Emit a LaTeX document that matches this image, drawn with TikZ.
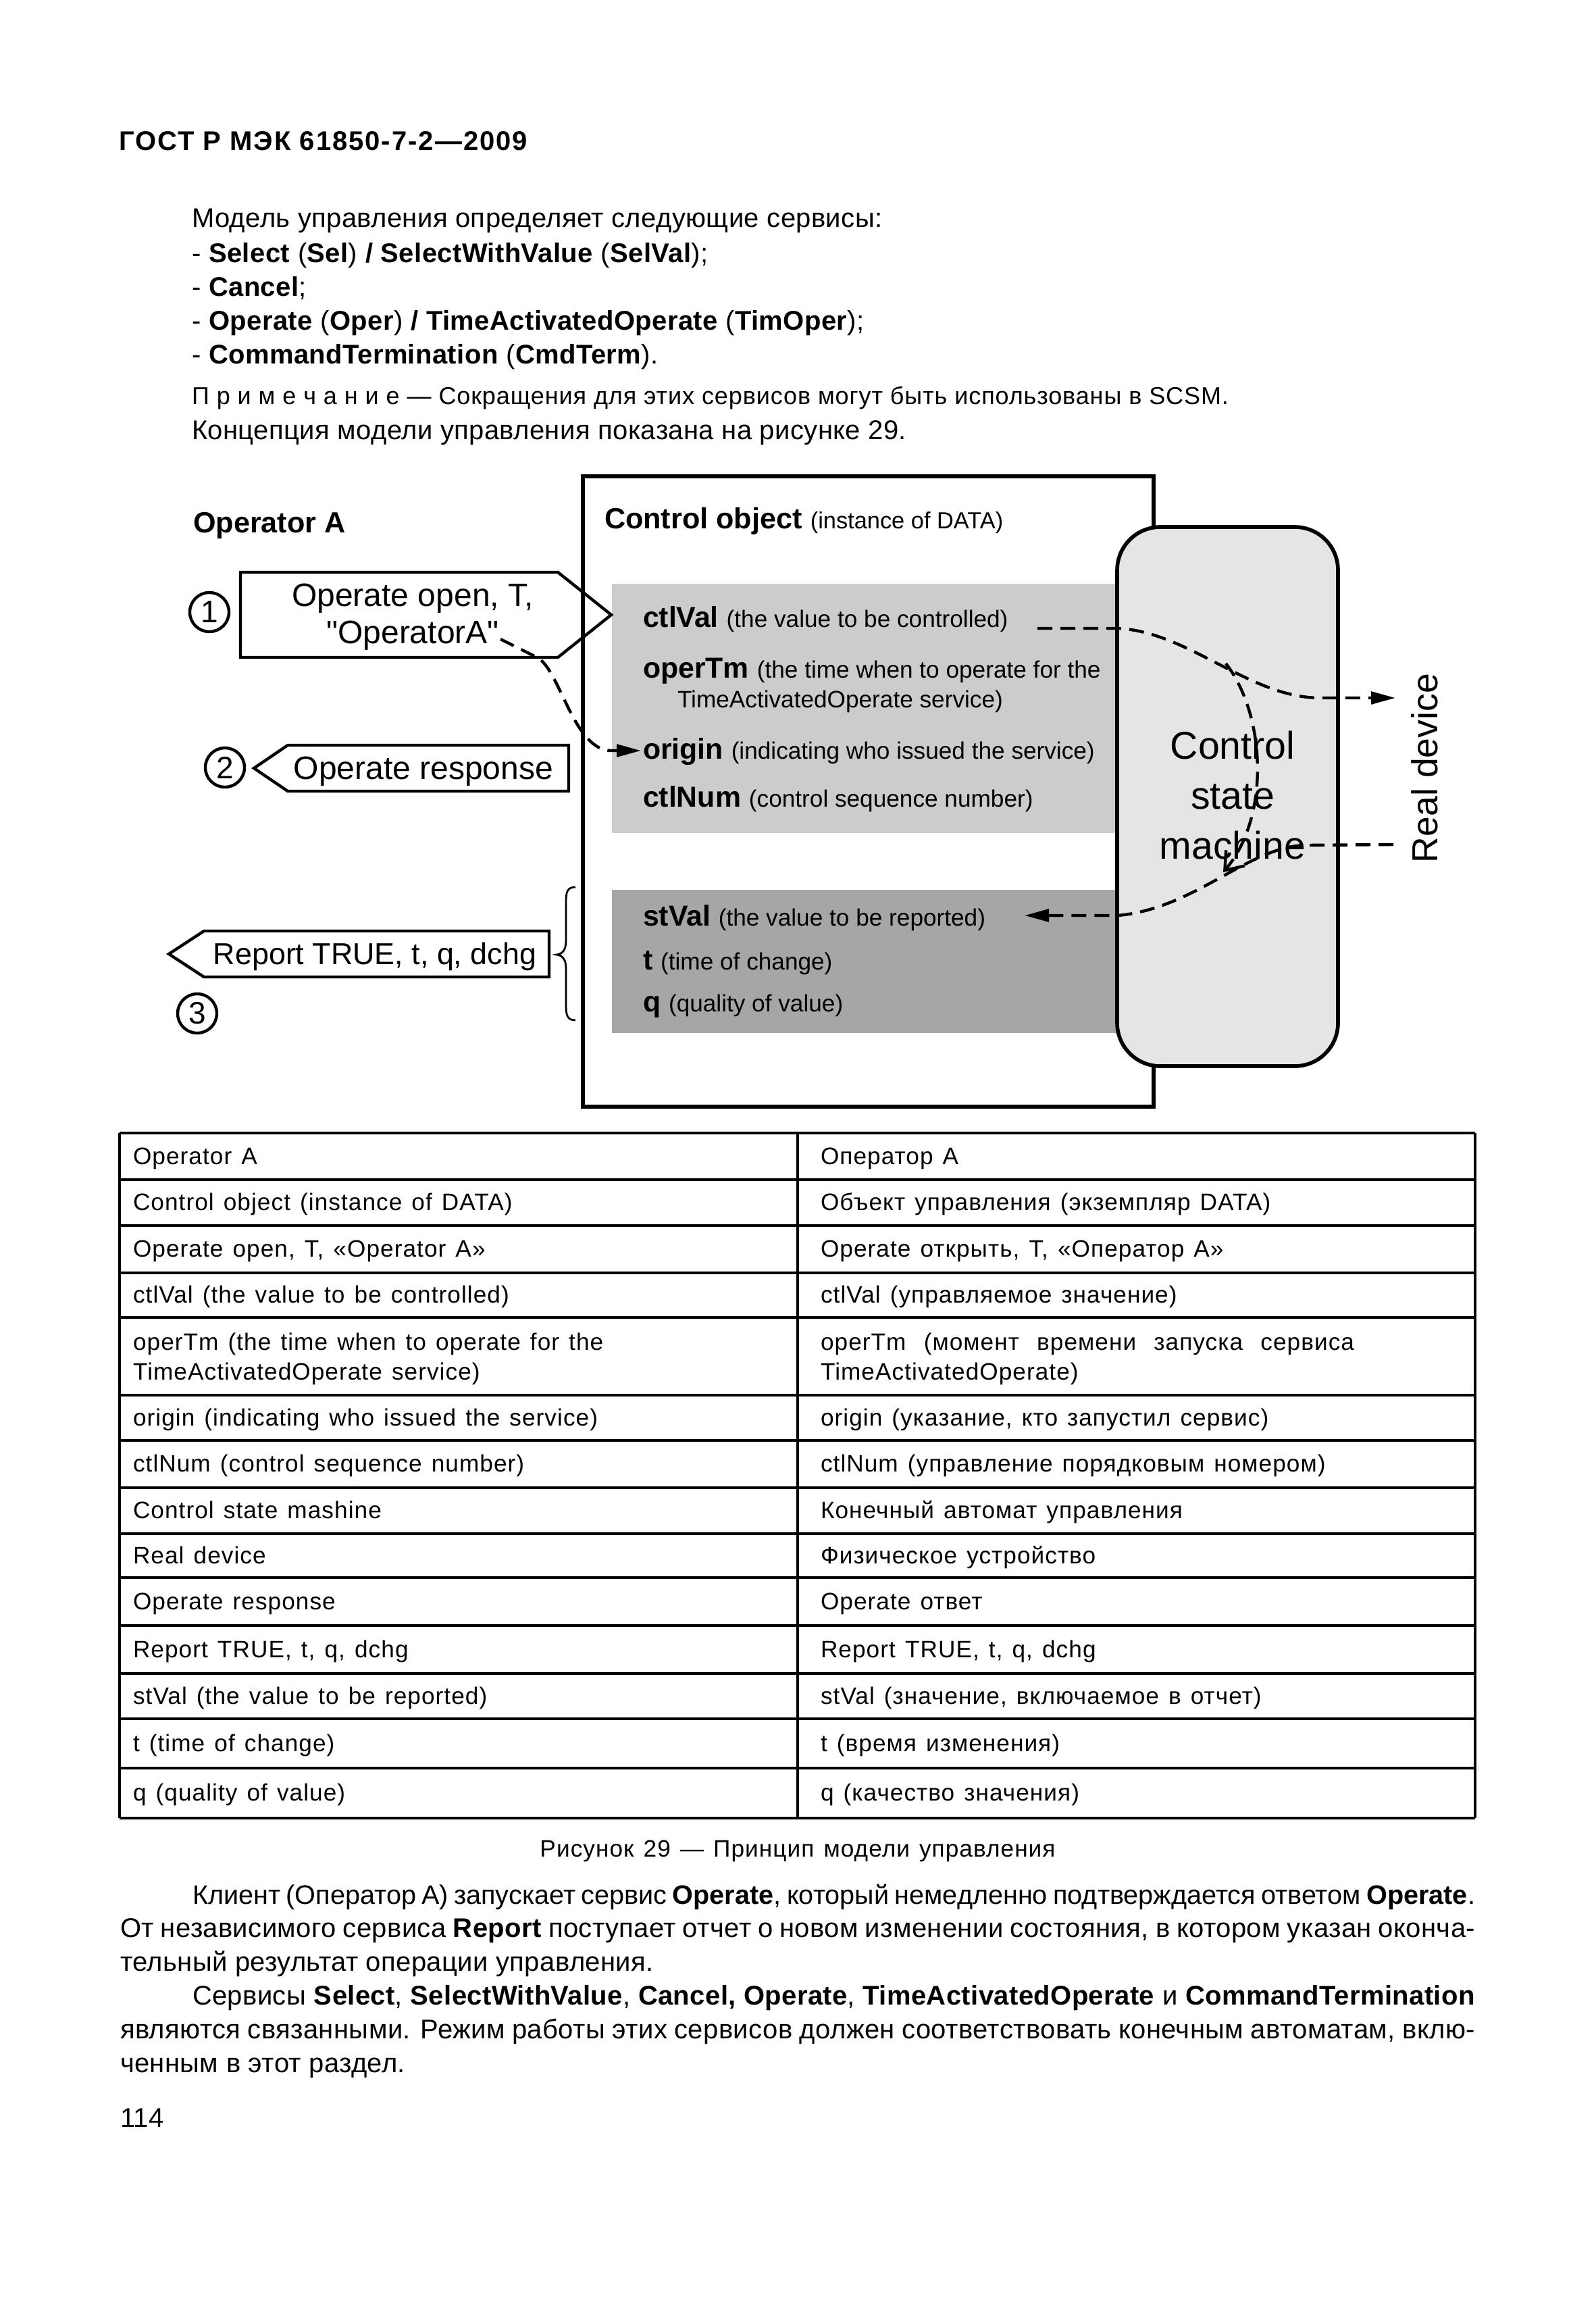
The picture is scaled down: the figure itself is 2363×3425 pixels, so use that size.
\documentclass[tikz,border=0pt]{standalone}
\usepackage{fontspec}
\setmainfont{Liberation Sans}
\newfontfamily\pagefont[LetterSpace=1]{Liberation Sans}
\newfontfamily\tightfont{Liberation Sans}
\newfontfamily\notefont[LetterSpace=2.5]{Liberation Sans}
\newfontfamily\headfont[LetterSpace=5]{Liberation Sans}
\newfontfamily\tabfont[LetterSpace=3,WordSpace=1.3]{Liberation Sans}
\newfontfamily\nolig[Ligatures=TeXOff]{Liberation Sans}
\usetikzlibrary{arrows.meta}
\definecolor{lg}{gray}{0.80}
\definecolor{dg}{gray}{0.65}
\definecolor{smf}{gray}{0.90}
\newcommand\bodyfs{\pagefont\fontsize{10pt}{12pt}\selectfont}
\newcommand\tightfs{\tightfont\fontsize{9.9pt}{12pt}\selectfont}
\newcommand\notefs{\notefont\fontsize{9pt}{10pt}\selectfont}
\newcommand\tabfs{\tabfont\fontsize{8.8pt}{11pt}\selectfont}
\newcommand\bl[1]{\fontsize{10.7pt}{12pt}\selectfont\bfseries #1}
\newcommand\ds[1]{\fontsize{8.8pt}{10pt}\selectfont\mdseries #1}
\begin{document}
\begin{tikzpicture}[x=0.25pt,y=-0.25pt,
  txt/.style={inner sep=0pt,outer sep=0pt,anchor=base west},
  ctxt/.style={inner sep=0pt,outer sep=0pt,anchor=base},
  dl/.style={line width=1.1pt,dash pattern=on 5.5pt off 3pt},
  tri/.style={-{Triangle[length=9pt,width=4.6pt]}},
  lab/.style={line width=1.1pt},
  num/.style={circle,draw,line width=1.1pt,minimum size=14.5pt,inner sep=0pt,font=\fontsize{11.5pt}{12pt}\selectfont},
  hl/.style={line width=0.9pt},
  vl/.style={line width=0.8pt}]
\fill[white] (0,0) rectangle (2363,3425);
\useasboundingbox (0,0) rectangle (2363,3425);

% ---------- page header and text ----------
\node[txt] (hdr) at (176,223) {\headfont\fontsize{10pt}{12pt}\selectfont\bfseries ГОСТ Р МЭК 61850-7-2—2009};
\node[txt] (p1) at (284,337) {\bodyfs Модель управления определяет следующие сервисы:};
\node[txt] (p2) at (284,388) {\bodyfs - \textbf{Select} (\textbf{Sel}) \textbf{/ SelectWithValue} (\textbf{SelVal});};
\node[txt] (p3) at (284,438) {\bodyfs - \textbf{Cancel};};
\node[txt] (p4) at (284,488) {\bodyfs - \textbf{Operate} (\textbf{Oper}) \textbf{/ TimeActivatedOperate} (\textbf{TimOper});};
\node[txt] (p5) at (284,538) {\bodyfs - \textbf{CommandTermination} (\textbf{CmdTerm}).};
\node[txt] (p6) at (284,598) {\notefs П р и м е ч а н и е — Сокращения для этих сервисов могут быть использованы в SCSM.};
\node[txt] (p7) at (284,650) {\bodyfs Концепция модели управления показана на рисунке 29.};

% ---------- diagram ----------
\node[txt] (opA) at (286,788) {\fontsize{10.8pt}{12pt}\selectfont\bfseries Operator A};
\draw[line width=1.5pt] (863,705) rectangle (1708,1638);
\node[txt] (cobj) at (895,782) {\fontsize{10.8pt}{12pt}\selectfont\bfseries Control object \fontsize{8.6pt}{10pt}\selectfont\mdseries(instance of DATA)};
\fill[lg] (906,864) rectangle (1660,1233);
\fill[dg] (906,1317) rectangle (1660,1529);
\draw[line width=1.4pt,fill=smf,rounded corners=16pt] (1654,780) rectangle (1981,1578);

\node[txt] (ctlval) at (952,928) {\bl{ctlVal} \ds{(the value to be controlled)}};
\node[txt] (opertm) at (952,1003) {\bl{operTm} \ds{(the time when to operate for the}};
\node[txt] (tao) at (1003,1047) {\ds{TimeActivatedOperate service)}};
\node[txt] (origin) at (952,1123) {\bl{origin} \ds{(indicating who issued the service)}};
\node[txt] (ctlnum) at (952,1194) {\bl{ctlNum} \ds{(control sequence number)}};
\node[txt] (stval) at (952,1370) {\bl{stVal} \ds{(the value to be reported)}};
\node[txt] (tch) at (952,1435) {\bl{t} \ds{(time of change)}};
\node[txt] (qv) at (952,1497) {\bl{q} \ds{(quality of value)}};

\node[ctxt] (csm1) at (1825,1123) {\fontsize{14.3pt}{18pt}\selectfont Control};
\node[ctxt] (csm2) at (1825,1197) {\fontsize{14.3pt}{18pt}\selectfont state};
\node[ctxt] (csm3) at (1825,1271) {\fontsize{14.3pt}{18pt}\selectfont machine};
\node[ctxt,rotate=90] (rd) at (2128,1137) {\fontsize{13.4pt}{16pt}\selectfont Real device};

% pentagon labels
\draw[lab] (356,847) -- (826,847) -- (905,910) -- (826,973) -- (356,973) -- cycle;
\node[ctxt] (oo1) at (611,897) {\fontsize{12pt}{14pt}\selectfont Operate open, T,};
\node[ctxt] (oo2) at (611,952) {\nolig\fontsize{12pt}{14pt}\selectfont "OperatorA"};
\draw[lab] (376,1137) -- (426,1103) -- (842,1103) -- (842,1171) -- (426,1171) -- cycle;
\node[ctxt] (orsp) at (627,1153) {\fontsize{12pt}{14pt}\selectfont Operate response};
\draw[lab] (250,1412) -- (302,1378) -- (813,1378) -- (813,1446) -- (302,1446) -- cycle;
\node[ctxt] (rep) at (555,1427) {\fontsize{11.2pt}{14pt}\selectfont Report TRUE, t, q, dchg};

\node[num] (n1) at (310,906) {1};
\node[num] (n2) at (333,1136) {2};
\node[num] (n3) at (292,1500) {3};

% brace
\draw[line width=0.7pt] (852,1313) .. controls (840,1313) and (838,1320) .. (838,1335) -- (838,1392)
  .. controls (838,1406) and (833,1412) .. (824,1413) .. controls (833,1414) and (838,1420) .. (838,1434)
  -- (838,1488) .. controls (838,1503) and (840,1510) .. (852,1510);

% connectors
\coordinate (c1s) at (1536,930);
\coordinate (c1e) at (2066,1033);
\draw[dl,tri] (c1s) -- (1655,930) .. controls (1760,935) and (1850,1033) .. (1955,1033) -- (c1e);
\coordinate (c2s) at (2063,1250);
\coordinate (c2e) at (1517,1355);
\draw[dl,tri] (c2s) -- (1935,1251) .. controls (1850,1251) and (1770,1345) .. (1655,1355) -- (c2e);
\coordinate (c3s) at (1815,982);
\coordinate (c3e) at (1811,1291);
\draw[dl,-{Straight Barb[length=6pt,width=9pt]}] (c3s) .. controls (1875,1060) and (1880,1210) .. (c3e);
\coordinate (c4s) at (741,946);
\coordinate (c4e) at (949,1111);
\draw[dl,tri] (c4s) -- (797,974) .. controls (830,995) and (850,1111) .. (905,1111) -- (c4e);

% ---------- table ----------
\foreach \yy in {1677,1746,1814,1884,1950,2065,2132,2202,2270,2335,2406,2477,2544,2617,2691}
  \draw[hl] (177,\yy) -- (2184,\yy);
\draw[vl] (177,1677) -- (177,2691);
\draw[vl] (1181,1677) -- (1181,2691);
\draw[vl] (2184,1677) -- (2184,2691);

\foreach \yy/\ll/\rr [count=\i] in {
  1723/{Operator A}/{Оператор А},
  1791.5/{Control object (instance of DATA)}/{Объект управления (экземпляр DATA)},
  1860.5/{Operate open, T, «Operator A»}/{Operate открыть, T, «Оператор А»},
  1928.5/{ctlVal (the value to be controlled)}/{ctlVal (управляемое значение)},
  2110/{origin (indicating who issued the service)}/{origin (указание, кто запустил сервис)},
  2178.5/{ctlNum (control sequence number)}/{ctlNum (управление порядковым номером)},
  2247.5/{Control state mashine}/{Конечный автомат управления},
  2314/{Real device}/{Физическое устройство},
  2382/{Operate response}/{Operate ответ},
  2453/{Report TRUE, t, q, dchg}/{Report TRUE, t, q, dchg},
  2522/{stVal (the value to be reported)}/{stVal (значение, включаемое в отчет)},
  2592/{t (time of change)}/{t (время изменения)},
  2665.5/{q (quality of value)}/{q (качество значения)}}
{
  \node[txt] (tl\i) at (197,\yy) {\tabfs \ll};
  \node[txt] (tr\i) at (1215,\yy) {\tabfs \rr};
}
\node[txt] (tl5a) at (197,1998) {\tabfs operTm (the time when to operate for the};
\node[txt] (tl5b) at (197,2042) {\tabfs TimeActivatedOperate service)};
\node[txt] (tr5a) at (1215,1998) {\tabfs\makebox[197.5pt][s]{operTm (момент времени запуска сервиса}};
\node[txt] (tr5b) at (1215,2042) {\tabfs TimeActivatedOperate)};

\node[ctxt] (cap) at (1181,2748) {\tabfs Рисунок 29 — Принцип модели управления};

% ---------- bottom paragraphs ----------
\node[txt] (b1) at (285,2818) {\tightfs\makebox[474.75pt][s]{Клиент (Оператор А) запускает сервис \textbf{Operate}, который немедленно подтверждается ответом \textbf{Operate}.}};
\node[txt] (b2) at (178,2867) {\bodyfs\makebox[501.5pt][s]{От независимого сервиса \textbf{Report} поступает отчет о новом изменении состояния, в котором указан оконча-}};
\node[txt] (b3) at (178,2917) {\bodyfs тельный результат операции управления.};
\node[txt] (b4) at (285,2967) {\bodyfs\makebox[474.75pt][s]{Сервисы \textbf{Select}, \textbf{SelectWithValue}, \textbf{Cancel, Operate}, \textbf{TimeActivatedOperate} и \textbf{CommandTermination}}};
\node[txt] (b5) at (178,3017) {\bodyfs\makebox[501.5pt][s]{являются связанными. Режим работы этих сервисов должен соответствовать конечным автоматам, вклю-}};
\node[txt] (b6) at (178,3067) {\bodyfs ченным в этот раздел.};
\node[txt] (pg) at (178,3148) {\bodyfs 114};
\end{tikzpicture}
\end{document}
